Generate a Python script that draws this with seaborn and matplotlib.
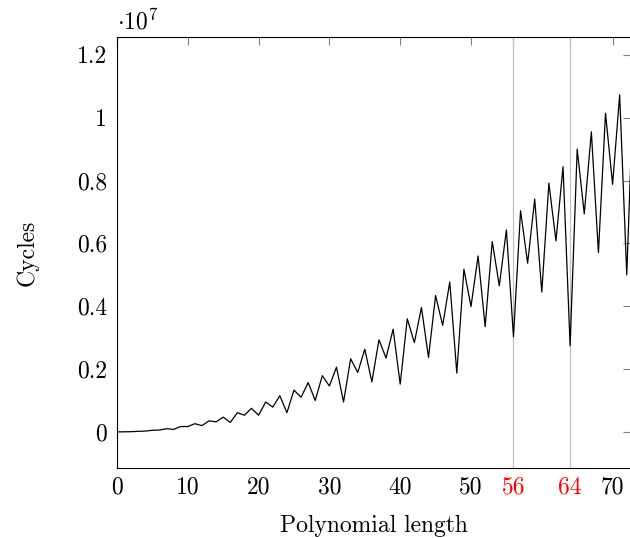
import numpy as np
import pandas as pd
import seaborn as sns
import matplotlib.pyplot as plt

# Polynomial lengths and measured cycles (in units of 10^7)
lengths = list(range(0, 74))
cycles_1e7 = [
    0.0, 0.0002, 0.0006, 0.0018, 0.0025, 0.005, 0.006, 0.010, 0.008, 0.017,
    0.017, 0.026, 0.020, 0.035, 0.032, 0.047, 0.030, 0.061, 0.053, 0.075,
    0.053, 0.095, 0.079, 0.115, 0.061, 0.133, 0.110, 0.157, 0.100, 0.179,
    0.146, 0.206, 0.095, 0.233, 0.189, 0.263, 0.159, 0.293, 0.235, 0.327,
    0.152, 0.360, 0.284, 0.396, 0.237, 0.434, 0.339, 0.477, 0.187, 0.518,
    0.399, 0.560, 0.335, 0.606, 0.465, 0.643, 0.303, 0.704, 0.537, 0.741,
    0.445, 0.792, 0.608, 0.844, 0.274, 0.900, 0.694, 0.955, 0.571, 1.014,
    0.788, 1.073, 0.500, 1.13,
]
xtick_values = [0, 10, 20, 30, 40, 50, 56, 64, 70]
highlight_lengths = [56, 64]
ytick_values = [0, 0.2, 0.4, 0.6, 0.8, 1.0, 1.2]
ytick_labels = ["0", "0.2", "0.4", "0.6", "0.8", "1", "1.2"]

sns.set_theme(style="white")
plt.rcParams["font.family"] = "serif"
plt.rcParams["font.serif"] = ["cmr10", "DejaVu Serif"]
plt.rcParams["mathtext.fontset"] = "cm"
plt.rcParams["axes.unicode_minus"] = False
plt.rcParams["text.color"] = "black"
plt.rcParams["axes.labelcolor"] = "black"

FS = 17

df = pd.DataFrame({"length": lengths, "cycles": cycles_1e7})

fig = plt.figure(figsize=(6.3, 5.38), dpi=100)
ax = fig.add_axes([117 / 630, 70 / 538, 514 / 630, 431 / 538])

# Vertical markers for highlighted lengths
for h in highlight_lengths:
    ax.axvline(h, color="#c0c0c0", lw=0.9, zorder=1)

sns.lineplot(data=df, x="length", y="cycles", color="black", lw=0.9, ax=ax, zorder=3)

ax.set_xlim(0, 72.6)
ax.set_ylim(-0.115, 1.257)

ax.set_xticks(xtick_values)
ax.set_xticklabels([str(v) for v in xtick_values])
ax.set_yticks(ytick_values)
ax.set_yticklabels(ytick_labels)

ax.tick_params(axis="both", direction="in", length=6, width=0.8, color="#808080",
               labelsize=FS, labelcolor="black", top=True, right=True)
ax.tick_params(axis="y", pad=7)
ax.tick_params(axis="x", pad=6)
for lbl, v in zip(ax.get_xticklabels(), xtick_values):
    if v in highlight_lengths:
        lbl.set_color("red")

for s in ax.spines.values():
    s.set_color("black")
    s.set_linewidth(0.8)

ax.set_xlabel("Polynomial length", fontsize=FS, labelpad=12, color="black")
ax.set_ylabel("Cycles", fontsize=FS, labelpad=28, color="black")
ax.text(0, 1.006, r"$\cdot 10^{7}$", transform=ax.transAxes, fontsize=FS,
        ha="left", va="bottom", color="black")

fig.savefig("out.png", dpi=100)
